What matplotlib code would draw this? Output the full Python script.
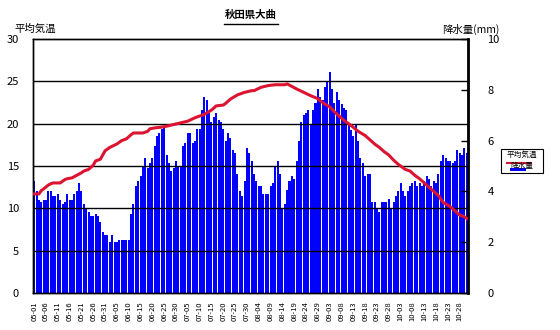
import numpy as np
import pandas as pd
import matplotlib
matplotlib.use("Agg")
import matplotlib.pyplot as plt
from matplotlib.patches import Rectangle
from matplotlib.lines import Line2D

plt.rcParams['font.family'] = ['Noto Sans CJK JP', 'DejaVu Sans']

# days 05-01 .. 10-31
dates = pd.date_range('2000-05-01', '2000-10-31', freq='D')
day_labels = [d.strftime('%m-%d') for d in dates]

# 降水量 (mm), one value per day
rain = [
    4.40, 4.00, 3.67, 3.60, 3.67, 3.67, 4.00, 4.00, 3.80, 3.80,
    3.88, 3.67, 3.50, 3.60, 3.88, 3.67, 3.67, 3.88, 4.00, 4.33,
    4.00, 3.50, 3.30, 3.20, 3.02, 3.02, 3.10, 3.02, 2.78, 2.40,
    2.30, 2.30, 2.00, 2.30, 2.00, 2.00, 2.10, 2.10, 2.10, 2.10,
    2.10, 3.10, 3.50, 4.20, 4.40, 4.60,
    4.97, 5.30, 4.93, 5.10, 5.30, 5.80, 6.20, 6.30, 6.47, 6.53,
    5.43, 5.10, 4.80, 4.93, 5.20, 4.97, 4.97, 5.80, 5.90, 6.30,
    6.30, 5.90, 6.00, 6.47, 6.47, 7.20, 7.70, 7.60, 7.07, 6.73,
    6.93, 7.10, 6.80, 6.73, 6.47, 6.00, 6.30, 6.10, 5.63, 5.50,
    4.70, 4.00, 3.80, 4.40, 5.70, 5.50, 5.20,
    4.70, 4.40, 4.20, 4.20, 3.88, 3.88, 3.88, 4.20, 4.33, 4.97,
    5.20, 4.70, 3.30, 3.50, 4.07, 4.40, 4.60, 4.50, 5.20, 6.00,
    6.73, 7.00, 7.10, 7.20, 6.60, 7.20, 7.50, 8.03, 7.70, 7.60,
    8.10, 8.30, 8.70, 8.03, 7.50, 7.90, 7.60, 7.43, 7.30, 7.20,
    6.60, 6.40, 6.20, 6.60, 6.00, 5.30, 5.10,
    4.60, 4.70, 4.70, 3.60, 3.60, 3.30, 3.20, 3.60, 3.60, 3.60,
    3.70, 3.30, 3.60, 3.80, 4.00, 4.33, 4.00, 3.80, 4.00, 4.20,
    4.33, 4.40, 4.20, 4.33, 4.20, 4.40, 4.60, 4.50, 4.20, 4.40,
    4.33, 4.70, 5.20, 5.43, 5.30, 5.20, 5.20, 5.10, 5.20, 5.63,
    5.50, 5.43, 5.70, 5.50,
]

# 平均気温 read at these days (index from 05-01)
temp_day = [0, 2, 3, 4, 6, 7, 8, 11, 13, 14, 16, 18, 20, 21, 23, 25, 26, 28,
            29, 30, 32, 35, 37, 39, 41, 42, 46, 48, 49, 51, 54, 56, 59, 62,
            65, 68, 70, 72, 75, 77, 80, 81, 83, 86, 89, 92, 93, 96, 99, 102,
            106, 107, 109, 111, 114, 117, 120, 121, 123, 125, 127, 129, 131,
            134, 137, 140, 142, 144, 146, 148, 150, 152, 154, 157, 159, 161,
            163, 165, 167, 169, 171, 173, 176, 178, 180, 182, 183]
temp = [11.7, 11.7, 12.1, 12.3, 12.75, 12.9, 13.0, 13.0, 13.4, 13.5, 13.6,
        13.9, 14.2, 14.4, 14.6, 15.1, 15.6, 15.8, 16.3, 16.8, 17.2, 17.6,
        18.0, 18.2, 18.7, 18.9, 18.9, 19.1, 19.4, 19.5, 19.6, 19.7, 19.9,
        20.1, 20.3, 20.7, 20.9, 21.1, 21.6, 22.1, 22.2, 22.4, 22.9, 23.4,
        23.7, 23.9, 23.9, 24.3, 24.5, 24.6, 24.6, 24.7, 24.4, 24.1, 23.7,
        23.3, 22.95, 22.7, 22.3, 22.0, 21.4, 20.9, 20.4, 19.8, 19.1, 18.6,
        18.1, 17.6, 17.2, 16.7, 16.3, 15.7, 15.2, 14.6, 14.4, 13.9, 13.5,
        13.0, 12.5, 12.0, 11.5, 10.7, 10.2, 9.7, 9.2, 9.0, 8.8]

fig = plt.figure(figsize=(5.6, 3.3), dpi=100)
ax = fig.add_axes([0.0589, 0.1121, 0.7768, 0.7697])
ax2 = ax.twinx()

x = np.arange(len(rain))
ax2.bar(x, rain, width=0.85, color='#0000ff', linewidth=0, antialiased=False)
ax2.set_ylim(0, 10)
ax2.set_yticks([0, 2, 4, 6, 8, 10])
ax2.tick_params(axis='y', direction='in', length=5, width=1, labelsize=8, pad=14)

ax.set_zorder(ax2.get_zorder() + 1)
ax.patch.set_visible(False)
ax.plot(temp_day, temp, color='#dc1432', lw=2.2, zorder=3)
ax.set_ylim(0, 30)
ax.set_yticks(range(0, 31, 5))
ax.tick_params(axis='y', length=0, labelsize=8, pad=10)
for v in range(5, 30, 5):
    ax.axhline(v, color='black', lw=1.0, zorder=2)

ax.set_xlim(-0.5, len(rain) - 0.5)
ax.set_xticks(x[::5])
ax.set_xticklabels(day_labels[::5], rotation=90, fontsize=5.5)
ax.tick_params(axis='x', length=0, pad=6)

for a in (ax, ax2):
    for s in a.spines.values():
        s.set_color('black')
        s.set_linewidth(1)
ax2.spines['right'].set_linewidth(2)

fig.text(0.448, 0.955, '秋田県大曲', fontsize=7.5, fontweight='bold', ha='center', va='center')
fig.add_artist(Line2D([0.40, 0.497], [0.928, 0.928], color='black', lw=1))
fig.text(0.025, 0.912, '平均気温', fontsize=7.5, ha='left', va='center')
fig.text(0.79, 0.91, '降水量(mm)', fontsize=7.5, ha='left', va='center')

# legend box
fig.add_artist(Rectangle((0.894, 0.475), 0.076, 0.073, transform=fig.transFigure,
                         facecolor='white', edgecolor='black', lw=0.8))
fig.text(0.932, 0.53, '平均気温', fontsize=5.5, ha='center', va='center')
fig.add_artist(Line2D([0.906, 0.948], [0.505, 0.505], color='#dc1432', lw=1.5))
fig.text(0.932, 0.497, '降水量', fontsize=5.5, ha='center', va='center')
fig.add_artist(Rectangle((0.910, 0.481), 0.03, 0.009, transform=fig.transFigure,
                         facecolor='#0000ff', edgecolor='none'))

fig.savefig('out.png', dpi=100)
